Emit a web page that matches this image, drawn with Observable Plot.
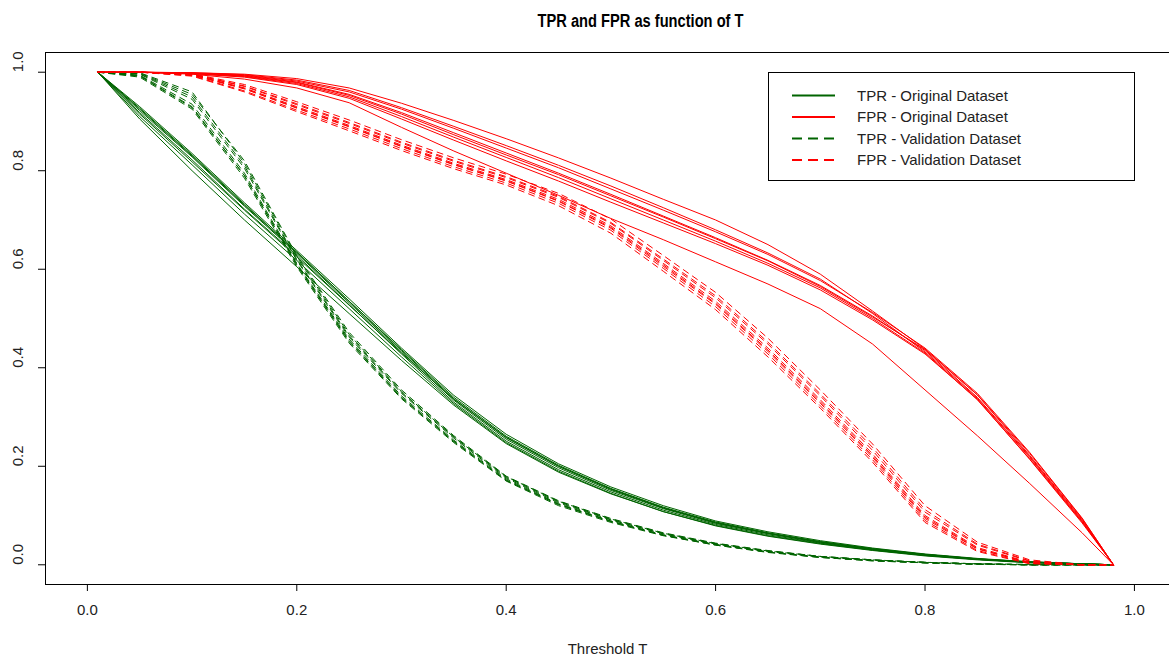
<!DOCTYPE html>
<html>
<head>
<meta charset="utf-8">
<script src="https://cdn.jsdelivr.net/npm/d3@7"></script>
<script src="https://cdn.jsdelivr.net/npm/@observablehq/plot@0.6"></script>
<style>
  html, body { margin: 0; padding: 0; background: #fff; overflow: hidden; }
  #chart { position: relative; width: 1169px; height: 659px; }
</style>
</head>
<body>
<div id="chart"></div>
<script>
// ---- data ----
const title = "TPR and FPR as function of T";
const xLabel = "Threshold T";
const xTicks = [0, 0.2, 0.4, 0.6, 0.8, 1.0];
const yTicks = [0, 0.2, 0.4, 0.6, 0.8, 1.0];
const xDomain = [-0.04, 1.0335];
const yDomain = [-0.04, 1.04];
const thresholds = [0.01,0.05,0.10,0.15,0.20,0.25,0.30,0.35,0.40,0.45,0.50,0.55,0.60,0.65,0.70,0.75,0.80,0.85,0.90,0.95,0.98];

const tprOriginal = [
  [1,0.925,0.83,0.73,0.635,0.535,0.435,0.337,0.258,0.2,0.154,0.116,0.085,0.064,0.046,0.032,0.021,0.012,0.006,0.002,0],
  [1,0.918,0.822,0.722,0.628,0.528,0.428,0.33,0.251,0.193,0.148,0.111,0.082,0.061,0.044,0.030,0.019,0.011,0.005,0.002,0],
  [1,0.93,0.835,0.735,0.638,0.54,0.44,0.344,0.265,0.205,0.158,0.12,0.089,0.067,0.049,0.034,0.022,0.013,0.006,0.002,0],
  [1,0.91,0.812,0.712,0.618,0.52,0.422,0.327,0.248,0.19,0.145,0.108,0.079,0.058,0.042,0.029,0.018,0.01,0.004,0.001,0],
  [1,0.905,0.8,0.7,0.605,0.51,0.415,0.324,0.246,0.188,0.144,0.108,0.08,0.059,0.043,0.03,0.019,0.011,0.005,0.002,0],
  [1,0.922,0.828,0.728,0.632,0.532,0.432,0.334,0.255,0.197,0.151,0.114,0.084,0.063,0.045,0.031,0.02,0.011,0.005,0.002,0],
  [1,0.915,0.818,0.72,0.625,0.527,0.43,0.336,0.259,0.2,0.153,0.115,0.086,0.064,0.047,0.033,0.021,0.012,0.006,0.002,0],
  [1,0.927,0.832,0.732,0.634,0.535,0.437,0.34,0.261,0.202,0.155,0.117,0.087,0.065,0.047,0.032,0.021,0.012,0.005,0.002,0]
];
const fprOriginal = [
  [1,1,0.999,0.996,0.987,0.968,0.937,0.902,0.865,0.826,0.785,0.742,0.70,0.65,0.59,0.515,0.438,0.345,0.222,0.092,0],
  [1,1,0.996,0.986,0.968,0.938,0.888,0.84,0.795,0.75,0.703,0.66,0.615,0.57,0.52,0.448,0.355,0.262,0.165,0.065,0],
  [1,1,0.998,0.993,0.98,0.955,0.918,0.877,0.836,0.795,0.752,0.708,0.664,0.618,0.567,0.505,0.435,0.34,0.22,0.09,0],
  [1,1,0.998,0.994,0.982,0.96,0.925,0.886,0.846,0.806,0.763,0.72,0.676,0.63,0.577,0.512,0.44,0.348,0.228,0.095,0],
  [1,1,0.997,0.991,0.977,0.95,0.91,0.868,0.827,0.786,0.743,0.70,0.657,0.612,0.562,0.50,0.43,0.335,0.215,0.087,0],
  [1,1,0.999,0.995,0.984,0.963,0.928,0.89,0.851,0.811,0.769,0.725,0.68,0.633,0.58,0.51,0.432,0.338,0.218,0.088,0],
  [1,1,0.997,0.99,0.975,0.947,0.905,0.862,0.82,0.779,0.736,0.694,0.652,0.608,0.558,0.497,0.428,0.336,0.214,0.085,0],
  [1,1,0.998,0.992,0.979,0.953,0.915,0.873,0.832,0.792,0.749,0.706,0.662,0.617,0.565,0.503,0.437,0.345,0.226,0.094,0]
];
const tprValidation = [
  [1,0.997,0.95,0.81,0.62,0.465,0.35,0.26,0.178,0.128,0.092,0.063,0.043,0.028,0.017,0.01,0.005,0.002,0,0,0],
  [1,0.993,0.93,0.79,0.61,0.455,0.34,0.25,0.172,0.122,0.088,0.06,0.041,0.026,0.015,0.009,0.004,0.001,0,0,0],
  [1,0.998,0.955,0.82,0.628,0.472,0.355,0.262,0.18,0.13,0.094,0.065,0.044,0.029,0.017,0.01,0.005,0.002,0,0,0],
  [1,0.99,0.925,0.785,0.605,0.45,0.337,0.248,0.17,0.12,0.086,0.059,0.04,0.025,0.015,0.008,0.004,0.001,0,0,0],
  [1,0.996,0.945,0.805,0.618,0.462,0.348,0.257,0.176,0.126,0.091,0.063,0.042,0.027,0.016,0.009,0.005,0.002,0,0,0],
  [1,0.994,0.935,0.795,0.612,0.458,0.343,0.253,0.174,0.124,0.089,0.061,0.041,0.026,0.016,0.009,0.004,0.002,0,0,0],
  [1,0.999,0.96,0.815,0.625,0.468,0.352,0.259,0.179,0.129,0.093,0.064,0.043,0.028,0.017,0.01,0.005,0.002,0.001,0,0],
  [1,0.992,0.928,0.79,0.608,0.453,0.339,0.251,0.171,0.123,0.088,0.06,0.04,0.026,0.015,0.008,0.004,0.001,0,0,0]
];
const fprValidation = [
  [1,1,0.996,0.972,0.936,0.898,0.858,0.821,0.788,0.748,0.695,0.621,0.546,0.452,0.347,0.238,0.112,0.042,0.008,0,0],
  [1,1,0.993,0.962,0.923,0.885,0.845,0.808,0.775,0.734,0.679,0.602,0.524,0.428,0.323,0.213,0.09,0.029,0.003,0,0],
  [1,1,0.997,0.975,0.94,0.903,0.863,0.826,0.793,0.754,0.702,0.628,0.553,0.46,0.355,0.245,0.12,0.046,0.01,0,0],
  [1,1,0.994,0.966,0.927,0.889,0.849,0.812,0.779,0.738,0.683,0.606,0.529,0.433,0.328,0.218,0.094,0.032,0.004,0,0],
  [1,1,0.995,0.968,0.93,0.892,0.852,0.815,0.782,0.742,0.688,0.612,0.535,0.44,0.335,0.225,0.1,0.035,0.005,0,0],
  [1,1,0.992,0.96,0.92,0.881,0.841,0.804,0.771,0.729,0.673,0.596,0.518,0.422,0.318,0.208,0.086,0.027,0.002,0,0],
  [1,1,0.996,0.971,0.934,0.896,0.856,0.819,0.786,0.746,0.693,0.618,0.542,0.448,0.343,0.232,0.107,0.04,0.007,0,0],
  [1,1,0.995,0.967,0.928,0.89,0.85,0.813,0.78,0.739,0.685,0.609,0.531,0.436,0.331,0.221,0.097,0.033,0.004,0,0]
];
const legendLabels = ["TPR - Original Dataset", "FPR - Original Dataset", "TPR - Validation Dataset", "FPR - Validation Dataset"];
const legendColors = ["darkgreen", "red", "darkgreen", "red"];
const legendDashed = [false, false, true, true];

// ---- build rows ----
function rows(series, name) {
  return series.flatMap((vals, i) => vals.map((v, j) => ({t: thresholds[j], v, id: name + i})));
}
const DASH = "6,5";
const FONT = "'Liberation Sans', Arial, Helvetica, sans-serif";

const plot = Plot.plot({
  width: 1169,
  height: 659,
  marginLeft: 45,
  marginRight: 0,
  marginTop: 52,
  marginBottom: 75,
  style: {fontFamily: FONT, fontSize: "15px", background: "#fff", color: "#000"},
  x: {domain: xDomain},
  y: {domain: yDomain},
  marks: [
    Plot.line(rows(tprOriginal, "to"), {x: "t", y: "v", z: "id", stroke: "darkgreen", strokeWidth: 1}),
    Plot.line(rows(fprOriginal, "fo"), {x: "t", y: "v", z: "id", stroke: "red", strokeWidth: 1}),
    Plot.line(rows(tprValidation, "tv"), {x: "t", y: "v", z: "id", stroke: "darkgreen", strokeWidth: 1, strokeDasharray: DASH}),
    Plot.line(rows(fprValidation, "fv"), {x: "t", y: "v", z: "id", stroke: "red", strokeWidth: 1, strokeDasharray: DASH}),
    // box: left, top, bottom (right side falls outside the picture)
    Plot.ruleY(yDomain, {stroke: "#000", strokeWidth: 1}),
    Plot.ruleX([xDomain[0]], {stroke: "#000", strokeWidth: 1}),
    Plot.axisX({ticks: xTicks, tickSize: 7, tickFormat: () => "", label: null, stroke: "#000"}),
    Plot.axisY({ticks: yTicks, tickSize: 7, tickFormat: () => "", label: null, stroke: "#000"}),
    Plot.text(xTicks, {x: d => d, text: d => d.toFixed(1), frameAnchor: "bottom", dy: 30, fontSize: 15, fill: "#222"}),
    Plot.text(yTicks, {y: d => d, text: d => d.toFixed(1), frameAnchor: "left", dx: -27.5, rotate: -90, fontSize: 15, fill: "#222"}),
    Plot.text([xLabel], {text: d => d, frameAnchor: "bottom", dy: 69, fontSize: 15, fill: "#222"}),
    Plot.text([title], {text: d => d, frameAnchor: "top", dx: 33, dy: -38, fontSize: 18, fontWeight: "bold", fill: "#000"})
  ]
});

// condensed title, as in the reference
const svg = d3.select(plot);
svg.selectAll("text").filter(function() { return this.textContent === title; })
  .attr("textLength", 206).attr("lengthAdjust", "spacingAndGlyphs");

// ---- legend (drawn into the same SVG) ----
const lg = svg.append("g").attr("font-family", FONT).attr("font-size", 15).attr("text-anchor", "start");
lg.append("rect").attr("x", 768.5).attr("y", 72.5).attr("width", 366).attr("height", 108)
  .attr("fill", "#fff").attr("stroke", "#000").attr("stroke-width", 1);
const rowsY = [95.5, 117, 138.5, 160];
legendLabels.forEach((lab, i) => {
  lg.append("line").attr("x1", 792).attr("x2", 835).attr("y1", rowsY[i]).attr("y2", rowsY[i])
    .attr("stroke", legendColors[i]).attr("stroke-width", 2)
    .attr("stroke-dasharray", legendDashed[i] ? "10,6" : null);
  lg.append("text").attr("x", 857).attr("y", rowsY[i]).attr("dy", "0.35em")
    .attr("text-anchor", "start").attr("fill", "#222").text(lab);
});

document.getElementById("chart").appendChild(plot);
</script>
</body>
</html>
